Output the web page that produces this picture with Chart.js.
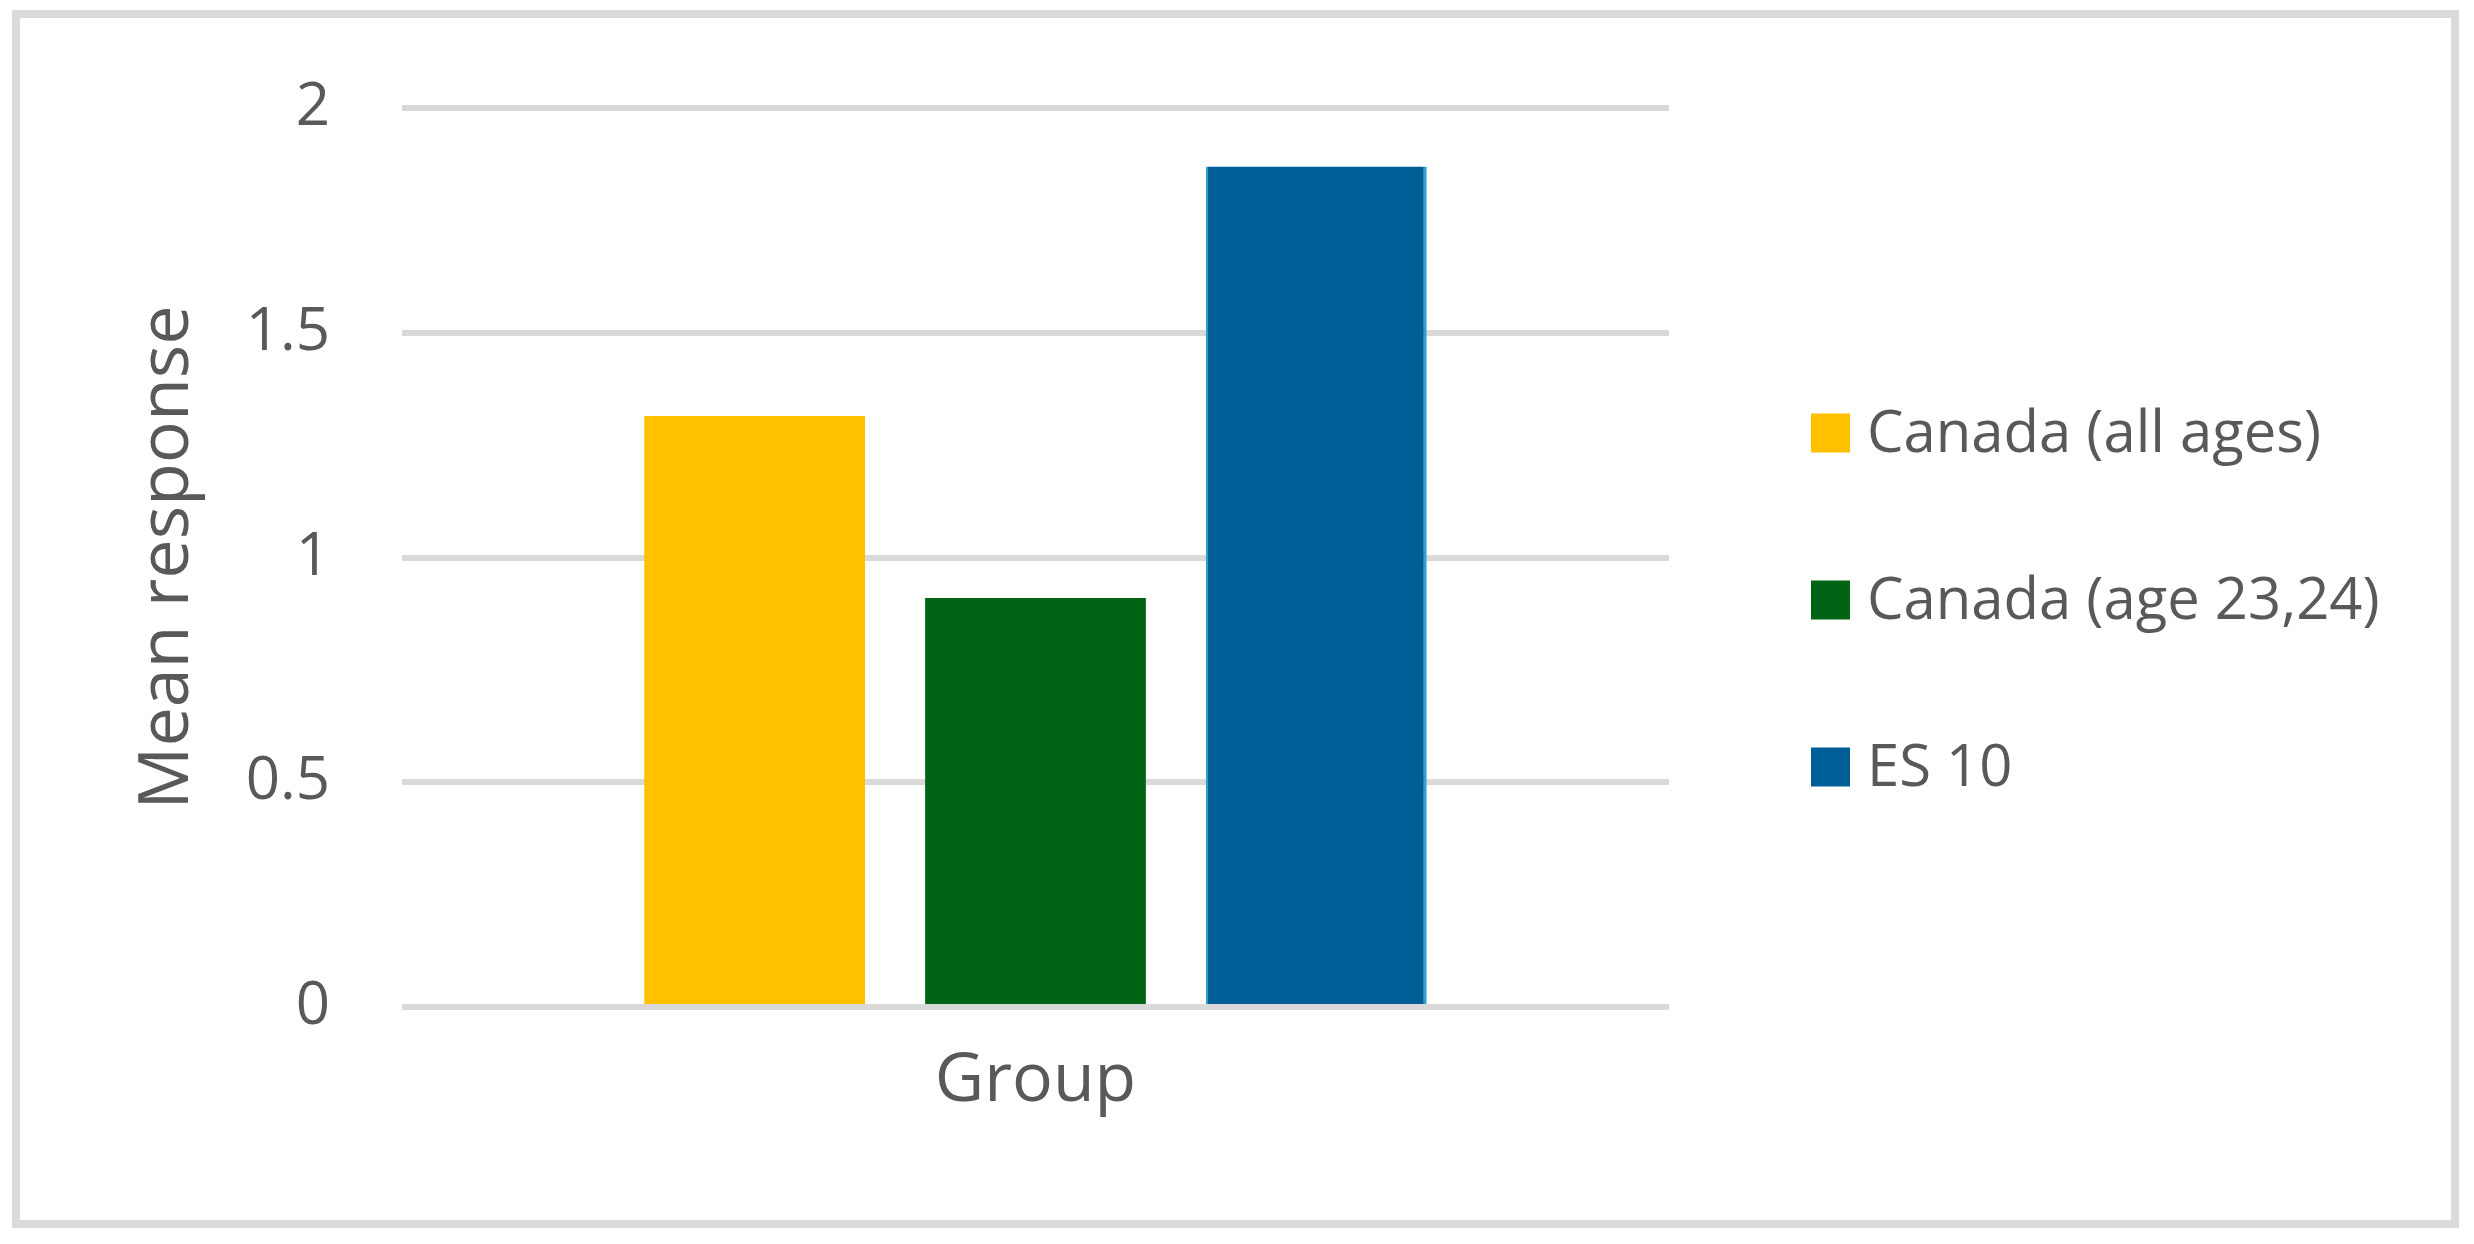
<!DOCTYPE html>
<html>
<head>
<meta charset="utf-8">
<title>Mean response by group</title>
<script src="https://cdn.jsdelivr.net/npm/chart.js@4.4.1/dist/chart.umd.min.js"></script>
<style>
  html, body { margin: 0; padding: 0; background: #fff; }
  #moldura {
    position: absolute;
    left: 12px; top: 10px;
    width: 2447px; height: 1218px;
    box-sizing: border-box;
    border: 8px solid #dadada;
  }
  #myChart { position: absolute; left: 0; top: 0; }
</style>
</head>
<body>
<div id="moldura"></div>
<canvas id="myChart" width="2474" height="1244"></canvas>

<script>
// Dados do gráfico
const categorias = ["Group"];
const nomesSeries = ["Canada (all ages)", "Canada (age 23,24)", "ES 10"];
const canadaTodas = [1.315];
const canadaJovens = [0.91];
const es10 = [1.87];
const coresSeries = ["#FFC000", "#006414", "#005E96"];
const eixoYMin = 0;
const eixoYMax = 2;
const eixoYPasso = 0.5;

const corTexto = "#595959";
const fonte = "'Open Sans', 'Noto Sans', sans-serif";

// Legenda desenhada à direita, itens espaçados como no original
const legendaLateral = {
  id: "legendaLateral",
  afterDraw(chart) {
    const ctx = chart.ctx;
    const caixa = 39;
    const x = 1811;
    const centros = [433, 600, 767];
    ctx.save();
    ctx.font = "58px " + fonte;
    ctx.textBaseline = "middle";
    ctx.textAlign = "left";
    chart.data.datasets.forEach((ds, i) => {
      const y = centros[i];
      ctx.fillStyle = ds.backgroundColor;
      ctx.fillRect(x, y - caixa / 2, caixa, caixa);
      ctx.fillStyle = corTexto;
      ctx.fillText(ds.label, x + 56, y + 2);
    });
    ctx.restore();
  }
};

document.addEventListener("DOMContentLoaded", () => {
  const ctx = document.getElementById("myChart").getContext("2d");
  const series = [canadaTodas, canadaJovens, es10];

  const grafico = new Chart(ctx, {
    type: "bar",
    data: {
      labels: categorias,
      datasets: series.map((valores, i) => ({
        label: nomesSeries[i],
        data: valores,
        backgroundColor: coresSeries[i],
        borderColor: i === 2 ? "#2f9fcf" : coresSeries[i],
        borderWidth: i === 2 ? { left: 2, right: 3, top: 0, bottom: 0 } : 0,
        borderSkipped: false,
        categoryPercentage: 0.665,
        barPercentage: 0.786
      }))
    },
    options: {
      responsive: false,
      animation: false,
      layout: {
        padding: { top: 104, left: 0, right: 805, bottom: 0 }
      },
      scales: {
        x: {
          grid: { display: false },
          border: { display: false },
          ticks: {
            color: corTexto,
            padding: 26,
            font: { family: fonte, size: 68, lineHeight: 1.2 }
          },
          afterFit: (escala) => { escala.height = 237; }
        },
        y: {
          min: eixoYMin,
          max: eixoYMax,
          grid: {
            color: "#d9d9d9",
            lineWidth: 6,
            drawTicks: false
          },
          border: { display: false },
          ticks: {
            stepSize: eixoYPasso,
            color: corTexto,
            padding: 72,
            font: { family: fonte, size: 60, lineHeight: 1.2 },
            // "2" e "1" sem casa decimal, como no Excel
            callback: (valor) => String(valor)
          },
          title: {
            display: true,
            text: "Mean response",
            color: corTexto,
            padding: { top: 126, bottom: 0 },
            font: { family: fonte, size: 70, lineHeight: 1.2 }
          },
          afterFit: (escala) => { escala.width = 402; }
        }
      },
      plugins: {
        legend: { display: false },
        tooltip: { enabled: false }
      }
    },
    plugins: [legendaLateral]
  });
});
</script>
</body>
</html>
